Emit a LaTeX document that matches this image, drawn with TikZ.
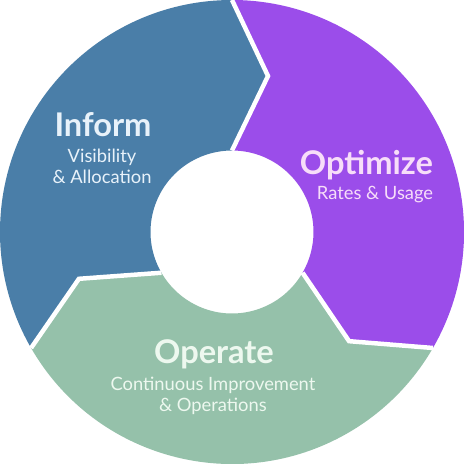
\documentclass[tikz,border=0pt]{standalone}
\usepackage{fontspec}
\setmainfont{Lato}
\usepackage{tikz}
\definecolor{informblue}{HTML}{4A7EA8}
\definecolor{optimizepurple}{HTML}{9B4DEA}
\definecolor{operategreen}{HTML}{95C1AA}
\definecolor{informtext}{HTML}{E8F2FA}
\definecolor{optimizetext}{HTML}{F7DDF9}
\definecolor{operatetext}{HTML}{EDF8EF}
\tikzset{
  phasetitle/.style={
    font=\fontsize{16}{19}\selectfont\bfseries,
    anchor=base,
    inner sep=0pt
  },
  phasesub/.style={
    font=\fontsize{9}{10.5}\selectfont,
    align=center,
    anchor=base,
    inner sep=0pt
  },
  phasegap/.style={
    draw=white,
    line width=2.2pt,
    line join=miter
  }
}
\newcommand{\rout}{4}
\newcommand{\rmid}{2.76}
\newcommand{\rin}{1.405}

\begin{document}
\begin{tikzpicture}
    \fill[white] (-4,-4) rectangle (4,4);
    \useasboundingbox (-4,-4) rectangle (4,4);

    % the three phases of the ring
    \fill[informblue] (90:\rout) arc[start angle=90, end angle=210, radius=\rout]
        -- (197:\rmid) -- (210:\rin) arc[start angle=210, end angle=90, radius=\rin]
        -- (77:\rmid) -- cycle;
    \fill[optimizepurple] (-30:\rout) arc[start angle=-30, end angle=90, radius=\rout]
        -- (77:\rmid) -- (90:\rin) arc[start angle=90, end angle=-30, radius=\rin]
        -- (-43:\rmid) -- cycle;
    \fill[operategreen] (210:\rout) arc[start angle=210, end angle=330, radius=\rout]
        -- (-43:\rmid) -- (-30:\rin) arc[start angle=330, end angle=210, radius=\rin]
        -- (197:\rmid) -- cycle;

    % white gaps between phases
    \draw[phasegap] (90:\rin) -- (77:\rmid) -- (90:\rout);
    \draw[phasegap] (-30:\rin) -- (-43:\rmid) -- (-30:\rout);
    \draw[phasegap] (210:\rin) -- (197:\rmid) -- (210:\rout);

    % base of a two-line node is its last line
    \node[phasetitle, text=informtext] (inform) at (-2.224,1.638) {Inform};
    \node[phasesub, text=informtext] (informsub) at (-2.241,0.828) {Visibility\\\& Allocation};

    \node[phasetitle, text=optimizetext] (optimize) at (2.319,0.983) {Optimize};
    \node[phasesub, text=optimizetext] (optimizesub) at (2.466,0.552) {Rates \& Usage};

    \node[phasetitle, text=operatetext] (operate) at (-0.310,-2.259) {Operate};
    \node[phasesub, text=operatetext] (operatesub) at (-0.328,-3.103) {Continuous Improvement\\\& Operations};
\end{tikzpicture}
\end{document}
